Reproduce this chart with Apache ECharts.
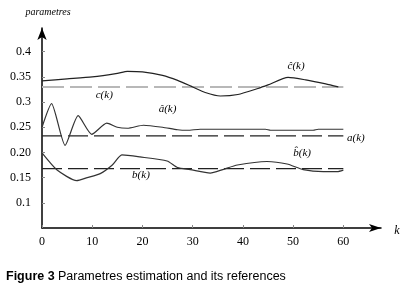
<!DOCTYPE html>
<html>
<head>
<meta charset="utf-8">
<script src="https://cdn.jsdelivr.net/npm/echarts@6/dist/echarts.min.js"></script>
<style>
  html, body { margin: 0; padding: 0; background: #fff; }
  #main { width: 410px; height: 289px; }
</style>
</head>
<body>
<div id="main"></div>
<script>
// estimated parameters
const cHatK = [0, 5, 10, 15, 17, 20, 24, 27, 30, 32.5, 35.5, 39, 43, 45, 49, 52.5, 56.5, 59];
const cHatV = [0.342, 0.346, 0.350, 0.357, 0.361, 0.360, 0.353, 0.343, 0.330, 0.319, 0.312, 0.315, 0.327, 0.334, 0.349, 0.344, 0.336, 0.330];

const aHatK = [0, 1.9, 4.6, 7.2, 9.9, 12.9, 15, 17, 20.2, 24, 27, 29, 31.5, 44.5, 45.5, 54, 55, 60];
const aHatV = [0.250, 0.297, 0.214, 0.273, 0.236, 0.258, 0.250, 0.248, 0.254, 0.250, 0.245, 0.244, 0.246, 0.246, 0.244, 0.244, 0.246, 0.246];

const bHatK = [0, 3, 6.9, 9, 11.6, 14, 15.9, 19.5, 24.9, 27, 29.5, 33.5, 36, 38.9, 44.8, 48.8, 52, 56, 58.8, 60];
const bHatV = [0.199, 0.165, 0.144, 0.150, 0.158, 0.175, 0.195, 0.191, 0.183, 0.170, 0.166, 0.159, 0.166, 0.175, 0.182, 0.177, 0.166, 0.162, 0.162, 0.165];

// references
const refK = [0, 60];
const cRef = [0.330, 0.330];
const aRef = [0.233, 0.233];
const bRef = [0.168, 0.168];

// axes
const xTicks = [0, 10, 20, 30, 40, 50, 60];
const yTicks = [0.1, 0.15, 0.2, 0.25, 0.3, 0.35, 0.4];
const yTickLabels = ['0.1', '0.15', '0.20', '0.25', '0.3', '0.35', '0.4'];

// curve labels [text, k, value]
const curveLabels = [
  ['c\u0302(k)', 50.6, 0.371],
  ['c(k)', 12.4, 0.313],
  ['a\u0302(k)', 25, 0.286],
  ['a(k)', 62.5, 0.228],
  ['b\u0302(k)', 51.8, 0.199],
  ['b(k)', 19.7, 0.155]
];

const serif = '"Liberation Serif", "DejaVu Serif", serif';

function pairs(ks, vs) {
  return ks.map((k, i) => [k, vs[i]]);
}

const chart = echarts.init(document.getElementById('main'), null, { renderer: 'canvas' });

const option = {
  backgroundColor: '#fff',
  animation: false,
  grid: { left: 42, right: 29, top: 28, bottom: 61 },
  xAxis: {
    type: 'value',
    min: 0,
    max: 67.5,
    splitLine: { show: false },
    axisLine: {
      onZero: false,
      symbol: ['none', 'arrow'],
      symbolSize: [6, 12],
      lineStyle: { color: '#000', width: 1.5 }
    },
    axisTick: {
      inside: true, length: 3, customValues: xTicks,
      lineStyle: { color: '#888' }
    },
    axisLabel: {
      customValues: xTicks,
      color: '#000', fontFamily: serif, fontSize: 12, margin: 8
    }
  },
  yAxis: {
    type: 'value',
    min: 0.05,
    max: 0.447,
    splitLine: { show: false },
    axisLine: {
      show: true,
      onZero: false,
      symbol: ['none', 'arrow'],
      symbolSize: [7, 12],
      lineStyle: { color: '#000', width: 1.5 }
    },
    axisTick: {
      inside: true, length: 3, customValues: yTicks,
      lineStyle: { color: '#888' }
    },
    axisLabel: {
      customValues: yTicks,
      formatter: v => {
        const i = yTicks.findIndex(t => Math.abs(t - v) < 1e-6);
        return i >= 0 ? yTickLabels[i] : '';
      },
      color: '#000', fontFamily: serif, fontSize: 12, margin: 11
    }
  },
  series: [
    {
      type: 'line', data: pairs(refK, cRef), symbol: 'none',
      lineStyle: { color: '#b8b8b8', width: 2, type: [22, 6] }
    },
    {
      type: 'line', data: pairs(refK, aRef), symbol: 'none',
      lineStyle: { color: '#222', width: 1.3, type: [20, 6] }
    },
    {
      type: 'line', data: pairs(refK, bRef), symbol: 'none',
      lineStyle: { color: '#222', width: 1.3, type: [20, 6] }
    },
    {
      type: 'line', data: pairs(cHatK, cHatV), symbol: 'none', smooth: 0.2,
      lineStyle: { color: '#222', width: 1.2 }
    },
    {
      type: 'line', data: pairs(aHatK, aHatV), symbol: 'none', smooth: 0.2,
      lineStyle: { color: '#333', width: 1.2 }
    },
    {
      type: 'line', data: pairs(bHatK, bHatV), symbol: 'none', smooth: 0.2,
      lineStyle: { color: '#333', width: 1.2 }
    }
  ]
};

chart.setOption(option);

// curve names, axis names and caption
const texts = curveLabels.map(([t, k, v]) => {
  const p = chart.convertToPixel({ gridIndex: 0 }, [k, v]);
  return {
    type: 'text', x: p[0], y: p[1],
    style: {
      text: t, fill: '#000', fontFamily: serif, fontStyle: 'italic', fontSize: 11,
      align: 'center', verticalAlign: 'middle'
    }
  };
});

texts.push({
  type: 'text', x: 48, y: 12,
  style: {
    text: 'parametres', fill: '#000', fontFamily: serif, fontStyle: 'italic', fontSize: 10,
    align: 'center', verticalAlign: 'middle'
  }
});
texts.push({
  type: 'text', x: 397, y: 231,
  style: {
    text: 'k', fill: '#000', fontFamily: serif, fontStyle: 'italic', fontSize: 12,
    align: 'center', verticalAlign: 'middle'
  }
});
texts.push({
  type: 'text', x: 6, y: 277,
  style: {
    rich: {
      b: { fontFamily: '"Liberation Sans", Arial, sans-serif', fontWeight: 'bold', fontSize: 12.5, fill: '#000' },
      r: { fontFamily: '"Liberation Sans", Arial, sans-serif', fontSize: 12.5, fill: '#000' }
    },
    text: '{b|Figure 3} {r|Parametres estimation and its references}',
    verticalAlign: 'middle'
  }
});

chart.setOption({ graphic: texts });
</script>
</body>
</html>
